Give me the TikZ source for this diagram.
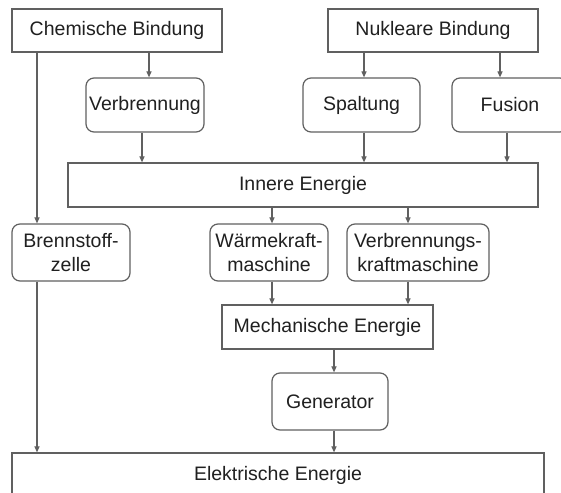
\documentclass[tikz,border=0pt]{standalone}
\usepackage{fontspec}
\setmainfont{Liberation Sans}
\usetikzlibrary{arrows.meta}
\definecolor{linec}{HTML}{606060}
\definecolor{textc}{HTML}{202020}
\begin{document}
\begin{tikzpicture}[x=1pt,y=-1pt,
  every node/.style={font=\fontsize{19.5}{24.5}\selectfont, text=textc, inner sep=0pt, align=center},
  sqbox/.style={draw=linec, line width=1.2pt},
  rbox/.style={draw=linec, line width=1.2pt, rounded corners=8pt},
  arr/.style={draw=linec, line width=1.1pt, -{Triangle[length=6pt,width=5pt]}}]
\useasboundingbox (0,0) rectangle (561,492);
\clip (0,0) rectangle (561,492);
\fill[white] (0,0) rectangle (561,492);
\node[sqbox, minimum width=210pt, minimum height=43pt] (chem) at (117,30.5) {Chemische Bindung};
\node[sqbox, minimum width=210pt, minimum height=43pt] (nuk) at (433,30.5) {Nukleare Bindung};
\node[rbox, minimum width=118pt, minimum height=54pt] (verb) at (145,105) {Verbrennung};
\node[rbox, minimum width=117pt, minimum height=54pt] (spalt) at (361.5,105) {Spaltung};
\node[rbox, minimum width=116pt, minimum height=54pt] (fus) at (510,105) {Fusion};
\node[sqbox, minimum width=470pt, minimum height=44pt] (inn) at (303,185) {Innere Energie};
\node[rbox, minimum width=118pt, minimum height=57pt] (bz) at (71,252.5) {Brennstoff-\\zelle};
\node[rbox, minimum width=118pt, minimum height=57pt] (wkm) at (269,252.5) {Wärmekraft-\\maschine};
\node[rbox, minimum width=142pt, minimum height=57pt] (vkm) at (418,252.5) {Verbrennungs-\\kraftmaschine};
\node[sqbox, minimum width=211pt, minimum height=44pt] (mech) at (327.5,327) {Mechanische Energie};
\node[rbox, minimum width=116pt, minimum height=57pt] (gen) at (330,401.5) {Generator};
\node[sqbox, minimum width=532pt, minimum height=44pt] (el) at (278,475) {Elektrische Energie};
\draw[arr] (149,0 |- chem.south) -- (149,0 |- verb.north);
\draw[arr] (37,0 |- chem.south) -- (37,0 |- bz.north);
\draw[arr] (142,0 |- verb.south) -- (142,0 |- inn.north);
\draw[arr] (364,0 |- nuk.south) -- (364,0 |- spalt.north);
\draw[arr] (500,0 |- nuk.south) -- (500,0 |- fus.north);
\draw[arr] (364,0 |- spalt.south) -- (364,0 |- inn.north);
\draw[arr] (507,0 |- fus.south) -- (507,0 |- inn.north);
\draw[arr] (272,0 |- inn.south) -- (272,0 |- wkm.north);
\draw[arr] (408,0 |- inn.south) -- (408,0 |- vkm.north);
\draw[arr] (272,0 |- wkm.south) -- (272,0 |- mech.north);
\draw[arr] (408,0 |- vkm.south) -- (408,0 |- mech.north);
\draw[arr] (334,0 |- mech.south) -- (334,0 |- gen.north);
\draw[arr] (37,0 |- bz.south) -- (37,0 |- el.north);
\draw[arr] (334,0 |- gen.south) -- (334,0 |- el.north);
\end{tikzpicture}
\end{document}
